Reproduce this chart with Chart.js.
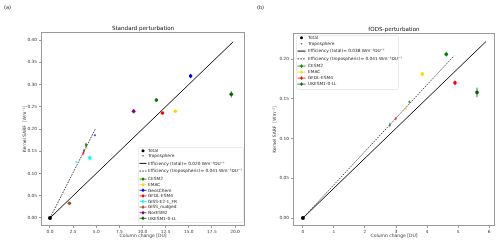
<!DOCTYPE html>
<html>
<head>
<meta charset="utf-8">
<script src="https://cdn.jsdelivr.net/npm/chart.js@4.4.1/dist/chart.umd.min.js"></script>
<style>
  html, body { margin: 0; padding: 0; background: #fff; }
  #wrap { position: relative; width: 500px; height: 243px; }
  canvas { position: absolute; top: 0; }
  #chartA { left: 0; }
  #chartB { left: 250px; }
</style>
</head>
<body>
<div id="wrap">
  <canvas id="chartA" width="250" height="243"></canvas>
  <canvas id="chartB" width="250" height="243"></canvas>
</div>
<script>
// ── Panel (a): standard perturbation ─────────────────────────────
const modelsA = ['CESM2', 'EMAC', 'GeosChem', 'GFDL-ESM4', 'GISS-E2-1_FR', 'GISS_nudged', 'NorESM2', 'UKESM1-0-LL'];
const colorsA = ['#008000', '#ffd700', '#0000ff', '#ff0000', '#00ffff', '#a0522d', '#800080', '#006400'];
const totalXA = [11.5, 13.55, 15.2, 12.15, 4.3, 2.1, 9.05, 19.6];
const totalYA = [0.265, 0.240, 0.319, 0.236, 0.135, 0.033, 0.240, 0.278];
const totalErrA = [0.004, 0.003, 0.005, 0.003, 0.004, 0.003, 0.005, 0.007];
const tropXA = [3.92, 3.95, 4.86, 3.6, 2.85, null, 3.67, 3.88];
const tropYA = [0.162, 0.157, 0.186, 0.145, 0.126, null, 0.151, 0.165];
const tropErrA = [0.006, 0.002, 0.002, 0.004, 0.002, 0, 0.004, 0.004];
const effTotalA = [[0, 0], [19.8, 0.396]];
const effTropA = [[0, 0], [4.9, 0.2]];
const xTicksA = [0, 2.5, 5, 7.5, 10, 12.5, 15, 17.5, 20];
const yTicksA = [0, 0.05, 0.10, 0.15, 0.20, 0.25, 0.30, 0.35, 0.40];

// ── Panel (b): fODS perturbation ─────────────────────────────────
const modelsB = ['CESM2', 'EMAC', 'GFDL-ESM4', 'UKESM1-0-LL'];
const colorsB = ['#008000', '#ffd700', '#ff0000', '#006400'];
const totalXB = [4.62, 3.85, 4.9, 5.61];
const totalYB = [0.206, 0.181, 0.170, 0.158];
const totalErrB = [0.003, 0.003, 0.003, 0.006];
const tropXB = [3.43, 3.32, 2.99, 2.8];
const tropYB = [0.146, 0.138, 0.125, 0.117];
const tropErrB = [0.002, 0.002, 0.002, 0.003];
const effTotalB = [[0, 0], [5.9, 0.222]];
const effTropB = [[0, 0], [4.87, 0.204]];
const xTicksB = [0, 1, 2, 3, 4, 5, 6];
const yTicksB = [0, 0.05, 0.10, 0.15, 0.20];

const FONT = 'DejaVu Sans';
const TEXT = '#333';

function pts(xs, ys) {
  return xs.map((x, i) => (x == null ? { x: null, y: null } : { x, y: ys[i] }));
}

function alpha(hex, a) {
  const n = parseInt(hex.slice(1), 16);
  return `rgba(${n >> 16},${(n >> 8) & 255},${n & 255},${a})`;
}

// ── Decorations: frame, title, error bars, legend ────────────────
const decor = {
  id: 'decor',
  beforeDatasetsDraw(chart, args, o) {
    const { ctx, scales: { x, y } } = chart;
    ctx.save();
    ctx.lineWidth = 0.8;
    chart.data.datasets.forEach(ds => {
      if (!ds.errors) return;
      ds.data.forEach((p, i) => {
        if (!p || p.x == null || !ds.errors[i]) return;
        const px = x.getPixelForValue(p.x);
        ctx.strokeStyle = Array.isArray(ds.pointBackgroundColor) ? ds.pointBackgroundColor[i] : ds.pointBackgroundColor;
        ctx.beginPath();
        ctx.moveTo(px, y.getPixelForValue(p.y - ds.errors[i]));
        ctx.lineTo(px, y.getPixelForValue(p.y + ds.errors[i]));
        ctx.stroke();
      });
    });
    ctx.restore();
  },
  afterDraw(chart, args, o) {
    const { ctx, chartArea: a } = chart;
    ctx.save();
    // frame
    ctx.strokeStyle = '#999';
    ctx.lineWidth = 1;
    ctx.strokeRect(a.left + 0.5, a.top + 0.5, a.right - a.left - 1, a.bottom - a.top - 1);
    // title + panel tag
    ctx.fillStyle = '#111';
    ctx.font = `5.6px "${FONT}"`;
    ctx.textAlign = 'center';
    ctx.textBaseline = 'alphabetic';
    ctx.fillText(o.title, (a.left + a.right) / 2, a.top - 2);
    ctx.textAlign = 'left';
    ctx.font = `5px "${FONT}"`;
    ctx.fillText(o.tag, o.tagX, 9);

    // legend
    const L = o.legend;
    ctx.fillStyle = 'rgba(255,255,255,0.85)';
    ctx.strokeStyle = '#ddd';
    ctx.lineWidth = 0.6;
    ctx.beginPath();
    ctx.roundRect(L.x + 0.5, L.y + 0.5, L.w, L.h, 1.5);
    ctx.fill();
    ctx.stroke();
    ctx.font = `4.3px "${FONT}"`;
    ctx.textBaseline = 'middle';
    let ry = L.y + L.first;
    L.rows.forEach(r => {
      const mx = L.x + L.mk;
      ctx.strokeStyle = r.color;
      ctx.fillStyle = r.color;
      if (r.kind === 'total') {
        ctx.beginPath(); ctx.arc(mx, ry, 1.5, 0, Math.PI * 2); ctx.fill();
      } else if (r.kind === 'trop') {
        ctx.beginPath(); ctx.arc(mx, ry, 0.8, 0, Math.PI * 2); ctx.fill();
      } else if (r.kind === 'line' || r.kind === 'dash') {
        ctx.lineWidth = 1;
        ctx.setLineDash(r.kind === 'dash' ? [1.6, 1.2] : []);
        ctx.beginPath(); ctx.moveTo(mx - L.hw, ry); ctx.lineTo(mx + L.hw, ry); ctx.stroke();
        ctx.setLineDash([]);
      } else {
        ctx.lineWidth = 0.8;
        ctx.beginPath();
        ctx.moveTo(mx - L.hw, ry); ctx.lineTo(mx + L.hw, ry);
        ctx.moveTo(mx, ry - 1.8); ctx.lineTo(mx, ry + 1.8);
        ctx.stroke();
        ctx.beginPath(); ctx.arc(mx, ry, 1.2, 0, Math.PI * 2); ctx.fill();
      }
      ctx.fillStyle = '#222';
      ctx.fillText(r.label, L.x + L.tx, ry + 0.2);
      ry += r.gap;
    });
    ctx.restore();
  }
};

function makeChart(id, d) {
  const fixW = w => function (s) { s.width = w; };
  const fixH = h => function (s) { s.height = h; };
  return new Chart(document.getElementById(id), {
    type: 'scatter',
    data: {
      datasets: [
        {
          label: 'Total origin',
          data: [{ x: 0, y: 0 }],
          pointBackgroundColor: '#000',
          pointBorderWidth: 0,
          pointRadius: 2,
        },
        {
          label: 'Total',
          data: pts(d.totalX, d.totalY),
          errors: d.totalErr,
          pointBackgroundColor: d.colors,
          pointBorderWidth: 0,
          pointRadius: 1.8,
        },
        {
          label: 'Troposphere',
          data: pts(d.tropX, d.tropY),
          errors: d.tropErr,
          pointBackgroundColor: d.colors.map(c => alpha(c, 0.6)),
          pointBorderWidth: 0,
          pointRadius: 1.1,
        },
        {
          type: 'line',
          label: 'Efficiency (tropospheric)',
          data: d.effTrop.map(([x, y]) => ({ x, y })),
          borderColor: '#444',
          borderWidth: 1,
          borderDash: [1.6, 1.2],
          pointRadius: 0,
        },
        {
          type: 'line',
          label: 'Efficiency (total)',
          data: d.effTotal.map(([x, y]) => ({ x, y })),
          borderColor: '#111',
          borderWidth: 1,
          pointRadius: 0,
        },
      ],
    },
    options: {
      responsive: false,
      animation: false,
      layout: { padding: { left: 0, right: d.padR, top: d.padT, bottom: 0 } },
      plugins: {
        legend: { display: false },
        tooltip: { enabled: false },
        decor: { title: d.title, tag: d.tag, tagX: d.tagX, legend: d.legend },
      },
      scales: {
        x: {
          type: 'linear',
          min: d.xMin, max: d.xMax,
          afterFit: fixH(d.xH),
          afterBuildTicks: s => { s.ticks = d.xTicks.map(v => ({ value: v })); },
          grid: { display: true, drawOnChartArea: false, tickLength: 2, color: '#555', lineWidth: 0.6 },
          border: { display: false },
          ticks: { padding: 1, color: TEXT, font: { family: FONT, size: 4.3 }, maxRotation: 0, callback: d.xFmt },
          title: { display: true, text: 'Column change [DU]', color: TEXT, font: { family: FONT, size: 4.5 }, padding: { top: 0, bottom: 4 } },
        },
        y: {
          type: 'linear',
          min: d.yMin, max: d.yMax,
          afterFit: fixW(d.yW),
          afterBuildTicks: s => { s.ticks = d.yTicks.map(v => ({ value: v })); },
          grid: { display: true, drawOnChartArea: false, tickLength: 2, color: '#555', lineWidth: 0.6 },
          border: { display: false },
          ticks: { padding: 2, color: TEXT, font: { family: FONT, size: 4.3 }, callback: v => v.toFixed(2) },
          title: { display: true, text: 'Kernel SARF  [Wm⁻²]', color: TEXT, font: { family: FONT, size: 4.5 }, padding: { top: 22, bottom: 0 } },
        },
      },
    },
    plugins: [decor],
  });
}

const modelRows = (names, colors, gap) => names.map((n, i) => ({ kind: 'model', label: n, color: colors[i], gap }));

makeChart('chartA', {
  colors: colorsA,
  totalX: totalXA, totalY: totalYA, totalErr: totalErrA,
  tropX: tropXA, tropY: tropYA, tropErr: tropErrA,
  effTotal: effTotalA, effTrop: effTropA,
  xTicks: xTicksA, yTicks: yTicksA,
  xMin: -0.97, xMax: 21.08, yMin: -0.018, yMax: 0.418,
  xFmt: v => v.toFixed(1),
  padR: 5, padT: 32, xH: 17, yW: 41,
  title: 'Standard perturbation', tag: '(a)', tagX: 4,
  legend: {
    x: 138, y: 147, w: 105, h: 75, first: 3.8, mk: 5, hw: 3.5, tx: 10,
    rows: [
      { kind: 'total', label: 'Total', color: '#000', gap: 5 },
      { kind: 'trop', label: 'Troposphere', color: '#555', gap: 7.6 },
      { kind: 'line', label: 'Efficiency (total)= 0.020 Wm⁻²DU⁻¹', color: '#111', gap: 7.7 },
      { kind: 'dash', label: 'Efficiency (tropospheric)= 0.041 Wm⁻²DU⁻¹', color: '#444', gap: 8 },
      ...modelRows(modelsA, colorsA, 5.6),
    ],
  },
});

makeChart('chartB', {
  colors: colorsB,
  totalX: totalXB, totalY: totalYB, totalErr: totalErrB,
  tropX: tropXB, tropY: tropYB, tropErr: tropErrB,
  effTotal: effTotalB, effTrop: effTropB,
  xTicks: xTicksB, yTicks: yTicksB,
  xMin: -0.32, xMax: 6.19, yMin: -0.01, yMax: 0.2327,
  xFmt: v => String(v),
  padR: 5, padT: 33, xH: 17, yW: 43,
  title: 'fODS-perturbation', tag: '(b)', tagX: 7,
  legend: {
    x: 46, y: 35, w: 102, h: 54, first: 2.8, mk: 5.5, hw: 4, tx: 12,
    rows: [
      { kind: 'total', label: 'Total', color: '#000', gap: 6 },
      { kind: 'trop', label: 'Troposphere', color: '#555', gap: 7.3 },
      { kind: 'line', label: 'Efficiency (total)= 0.038 Wm⁻²DU⁻¹', color: '#111', gap: 7.7 },
      { kind: 'dash', label: 'Efficiency (tropospheric)= 0.041 Wm⁻²DU⁻¹', color: '#444', gap: 7.3 },
      ...modelRows(modelsB, colorsB, 6),
    ],
  },
});
</script>
</body>
</html>
